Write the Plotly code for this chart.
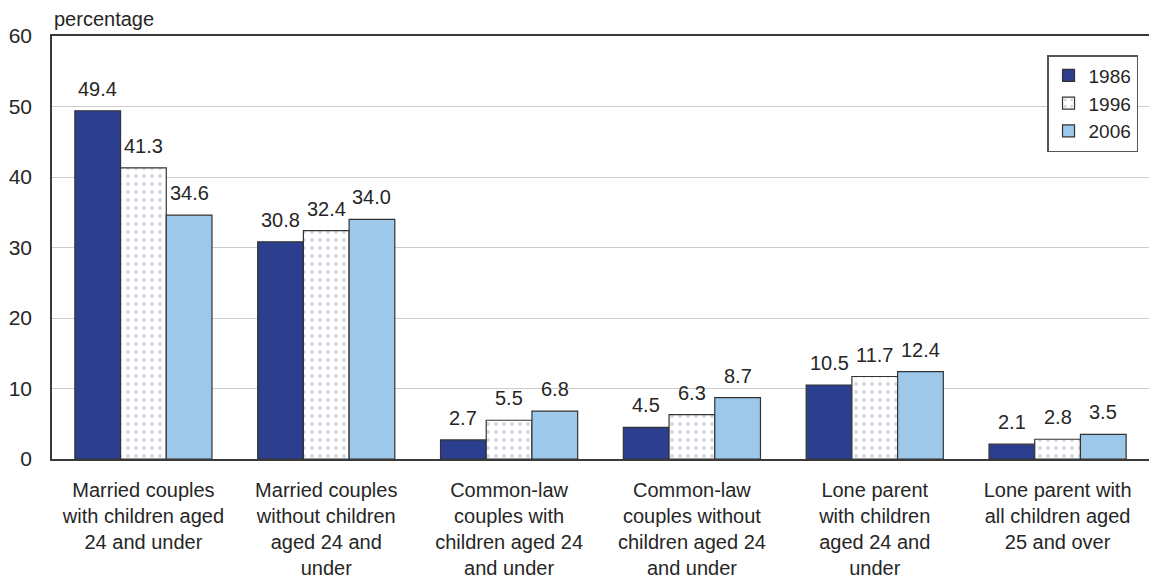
import plotly.graph_objects as go

categories = [
    "Married couples<br>with children aged<br>24 and under",
    "Married couples<br>without children<br>aged 24 and<br>under",
    "Common-law<br>couples with<br>children aged 24<br>and under",
    "Common-law<br>couples without<br>children aged 24<br>and under",
    "Lone parent<br>with children<br>aged 24 and<br>under",
    "Lone parent with<br>all children aged<br>25 and over",
]
years = ["1986", "1996", "2006"]
values_1986 = [49.4, 30.8, 2.7, 4.5, 10.5, 2.1]
values_1996 = [41.3, 32.4, 5.5, 6.3, 11.7, 2.8]
values_2006 = [34.6, 34.0, 6.8, 8.7, 12.4, 3.5]
y_ticks = [0, 10, 20, 30, 40, 50, 60]

FONT = "Liberation Sans, Arial, sans-serif"
TEXT = "#262626"
W, H = 1149, 584
M_L, M_R, M_T, M_B = 52, 0, 36, 125
BARGAP = 0.25

fig = go.Figure()
series = [
    (years[0], values_1986, dict(color="#2c3f8e")),
    (years[1], values_1996, dict(color="#ffffff",
                                 pattern=dict(shape=".", fgcolor="#9fadbf", bgcolor="#ffffff",
                                              size=8, solidity=0.18))),
    (years[2], values_2006, dict(color="#9dc8e9")),
]
for name, vals, mk in series:
    fig.add_trace(go.Bar(
        name=name, x=categories, y=vals,
        marker=dict(**mk, line=dict(color="#333333", width=1.2)),
    ))

# value labels above each bar, offset to the bar's slot within its group
cat_px = (W - M_L - M_R) / len(categories)
bar_px = cat_px * (1 - BARGAP) / len(series)
annotations = []
for i, (name, vals, _) in enumerate(series):
    for cat, v in zip(categories, vals):
        annotations.append(dict(
            x=cat, y=v, xref="x", yref="y", text=f"{v:.1f}", showarrow=False,
            xanchor="center", yanchor="bottom", xshift=(i - 1) * bar_px, yshift=9,
            font=dict(family=FONT, size=20, color=TEXT),
        ))
annotations.append(dict(
    text="percentage", xref="paper", yref="paper", x=0, y=1,
    xanchor="left", yanchor="bottom", yshift=4, showarrow=False,
    font=dict(family=FONT, size=20, color=TEXT),
))

fig.update_layout(
    width=W, height=H,
    margin=dict(l=M_L, r=M_R, t=M_T, b=M_B),
    paper_bgcolor="white", plot_bgcolor="white",
    barmode="group", bargap=BARGAP, bargroupgap=0,
    font=dict(family=FONT, size=20, color=TEXT),
    showlegend=True,
    legend=dict(
        x=0.99, y=0.955, xanchor="right", yanchor="top",
        bordercolor="#555555", borderwidth=1.5, bgcolor="white",
        font=dict(family=FONT, size=19, color=TEXT),
        itemwidth=30, tracegroupgap=0,
    ),
    xaxis=dict(
        showline=True, mirror=True, linecolor="#3a3a3a", linewidth=1.5,
        ticks="", tickfont=dict(family=FONT, size=20, color=TEXT),
        showgrid=False, ticklabelstandoff=12,
    ),
    yaxis=dict(
        range=[0, 60], tickvals=y_ticks,
        showline=True, linecolor="#3a3a3a", linewidth=1.5,
        showgrid=True, gridcolor="#cccccc", gridwidth=1,
        ticks="", tickfont=dict(family=FONT, size=21, color=TEXT),
        ticklabelstandoff=14, zeroline=False,
    ),
    annotations=annotations,
)

fig.write_html("out.html")
